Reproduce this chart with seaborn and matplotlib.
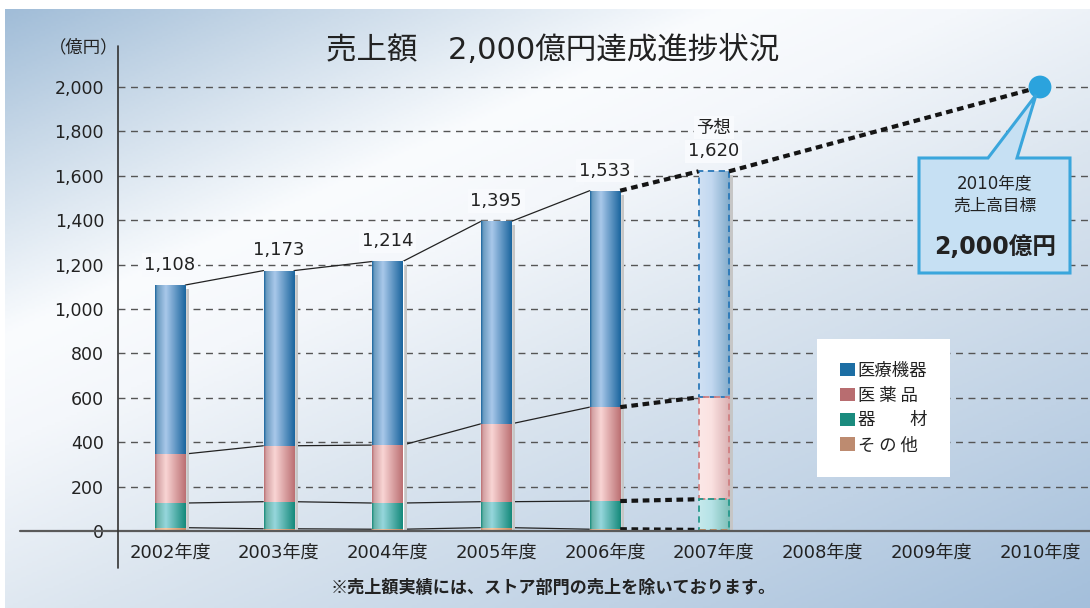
import numpy as np
import pandas as pd
import matplotlib
matplotlib.use("Agg")
import matplotlib.pyplot as plt
import seaborn as sns
from matplotlib.patches import Rectangle, Polygon, Patch
from matplotlib.lines import Line2D
from matplotlib.colors import LinearSegmentedColormap, to_rgb
from matplotlib.ticker import FuncFormatter

# ---------------- data ----------------
years = ["2002年度", "2003年度", "2004年度", "2005年度", "2006年度",
         "2007年度", "2008年度", "2009年度", "2010年度"]
actual_years = years[:6]
other = [15, 10, 8, 15, 8, 5]              # その他
equipment = [111, 122, 118, 117, 127, 138]  # 器材
pharma = [221, 252, 261, 351, 423, 459]     # 医薬品
devices = [761, 789, 827, 912, 975, 1018]   # 医療機器
totals = [1108, 1173, 1214, 1395, 1533, 1620]
forecast_year = "2007年度"
target_year = "2010年度"
target_value = 2000
series_names = ["医療機器", "医 薬 品", "器　　材", "そ の 他"]
y_ticks = [0, 200, 400, 600, 800, 1000, 1200, 1400, 1600, 1800, 2000]

title = "売上額　2,000億円達成進捗状況"
unit_label = "（億円）"
footnote = "※売上額実績には、ストア部門の売上を除いております。"
callout_lines = ["2010年度", "売上高目標"]
callout_value = "2,000億円"
forecast_label = "予想"

# ---------------- style ----------------
sns.set_style("white")
plt.rcParams["font.family"] = ["DejaVu Sans", "Noto Sans CJK JP"]
CJK = ["Noto Sans CJK JP", "DejaVu Sans"]

W, H = 1090, 608
def fx(px): return px / W
def fy(py): return 1 - py / H

fig = plt.figure(figsize=(W / 100, H / 100), dpi=100)
fig.patch.set_facecolor("white")

# background gradient
bg = fig.add_axes([fx(5), 0, 1 - fx(5), fy(9)])
bg.set_zorder(-5)
gx, gy = np.meshgrid(np.linspace(0, 1, 400), np.linspace(0, 1, 240))
u = 0.45 * gx + 0.55 * gy
stops = [(0.0, "#a1bdd8"), (0.12, "#c6d7e7"), (0.3, "#fafcfe"), (0.4, "#f4f7fb"),
         (0.58, "#dbe5ef"), (0.8, "#c0d2e5"), (1.0, "#a4bfdb")]
bg_cmap = LinearSegmentedColormap.from_list("bg", stops)
bg.imshow(u, cmap=bg_cmap, aspect="auto", extent=[0, 1, 1, 0], vmin=0, vmax=1)
bg.axis("off")

ax = fig.add_axes([fx(118), fy(531), 1 - fx(118), (531 - 47) / H])
ax.patch.set_alpha(0)

px_per_cat = 108.75
ymax = target_value * (531 - 47) / (531 - 87)
px_per_unit = (531 - 87) / target_value

bar_w = 0.28
cum_other = np.array(other, dtype=float)
cum_equip = cum_other + np.array(equipment)
cum_pharma = cum_equip + np.array(pharma)
cum_total = cum_pharma + np.array(devices)
zeros = np.zeros(len(actual_years))

layers = [
    # legend name, top, bottom, dark, light, legend color, forecast edge
    (series_names[0], cum_total, cum_pharma, "#1a659e", "#a9c8ea", "#1c6ea4", "#2a78b8"),
    (series_names[1], cum_pharma, cum_equip, "#bb6f72", "#f9d5d4", "#b86d70", "#d07f82"),
    (series_names[2], cum_equip, cum_other, "#14897a", "#96d7dc", "#1a8b7e", "#26998c"),
    (series_names[3], cum_other, zeros, "#c98a62", "#f6c9a2", "#bd8b70", "#c98a62"),
]

def mix(c, t):
    r = np.array(to_rgb(c))
    return tuple(r + (1 - r) * t)

forecast_idx = years.index(forecast_year)
grad = np.linspace(0, 1, 128).reshape(1, -1)
handles = []
for k, (name, top, bottom, dark, light, lcol, ecol) in enumerate(layers):
    df = pd.DataFrame({"year": actual_years, "value": top})
    n0 = len(ax.patches)
    sns.barplot(data=df, x="year", y="value", order=years, color=dark,
                width=bar_w, saturation=1, errorbar=None, ax=ax)
    cmap = LinearSegmentedColormap.from_list(
        f"c{k}", [(0, dark), (0.07, mix(dark, 0.35)), (0.35, light), (1.0, dark)])
    fcmap = LinearSegmentedColormap.from_list(
        f"f{k}", [(0, mix(light, 0.45)), (0.4, mix(light, 0.3)), (1.0, mix(dark, 0.45))])
    for p in ax.patches[n0:]:
        h = p.get_height()
        if not np.isfinite(h):
            continue
        x0, w = p.get_x(), p.get_width()
        i = int(round(x0 + w / 2))
        b, t = bottom[i], top[i]
        p.set_y(b)
        p.set_height(t - b)
        p.set_zorder(2)
        im = ax.imshow(grad, cmap=fcmap if i == forecast_idx else cmap,
                       extent=[x0, x0 + w, b, t], aspect="auto",
                       interpolation="bilinear", origin="lower", zorder=2.2)
        im.set_clip_path(p)
        if i == forecast_idx:
            p.set_facecolor("none")
            p.set_edgecolor(ecol)
            p.set_linestyle((0, (3.5, 2.5)))
            p.set_linewidth(1.3)
            p.set_zorder(2.4)
        if k == 0:
            # drop shadow on the right of each bar
            sw = 4 / px_per_cat
            drop = 4 / px_per_unit
            ax.add_patch(Rectangle((x0 + w, 0), sw, t - drop,
                                   facecolor="#c6c6c6", edgecolor="none", zorder=1.9))
    handles.append(Patch(facecolor=lcol, edgecolor="none", label=name))

# connecting lines between bars
half = bar_w / 2
for i in range(len(actual_years) - 1):
    for arr in (cum_total, cum_pharma, cum_equip, cum_other):
        xs = [i + half, i + 1 - half]
        ys = [arr[i], arr[i + 1]]
        if i + 1 < forecast_idx:
            ax.plot(xs, ys, color="#222222", lw=0.9, zorder=1.8)
        else:
            ax.plot(xs, ys, color="#151515", lw=3.0,
                    linestyle=(0, (1.6, 1.1)), zorder=2.5)

# line to target
tgt_x = years.index(target_year)
ax.plot([forecast_idx + half, tgt_x], [cum_total[forecast_idx], target_value],
        color="#151515", lw=3.0, linestyle=(0, (1.6, 1.1)), zorder=2.5)
ax.scatter([tgt_x], [target_value], s=270, color="#2ba3dd", zorder=6,
           edgecolors="none")

# value labels (with a small background box that breaks the grid line)
lbl_box = dict(boxstyle="square,pad=0.15", facecolor="#f8fafd", edgecolor="none")
for i, v in enumerate(totals):
    ax.annotate(f"{v:,}", (i, cum_total[i]), xytext=(0, 8),
                textcoords="offset points", ha="center", va="bottom",
                fontsize=13, color="#222222", zorder=7, bbox=lbl_box)
ax.annotate(forecast_label, (forecast_idx, cum_total[forecast_idx]), xytext=(0, 25),
            textcoords="offset points", ha="center", va="bottom",
            fontsize=12.5, color="#222222", zorder=7, family=CJK, bbox=lbl_box)

# axes formatting
ax.set_xlim(-(170 - 118) / px_per_cat, (W - 170) / px_per_cat)
ax.set_ylim(0, ymax)
ax.set_yticks(y_ticks)
ax.yaxis.set_major_formatter(FuncFormatter(lambda v, p: f"{int(v):,}"))
ax.set_xticks(range(len(years)))
ax.set_xticklabels(years)
ax.tick_params(axis="y", length=0, pad=10, labelsize=12.5, labelcolor="#222222")
ax.tick_params(axis="x", length=0, pad=9, labelsize=13, labelcolor="#222222")
ax.set_xlabel("")
ax.set_ylabel("")
for s in ax.spines.values():
    s.set_visible(False)
ax.set_axisbelow(True)
ax.yaxis.grid(True, color="#555555", lw=1.0, linestyle=(0, (5, 4)))
ax.xaxis.grid(False)

# axis lines (extend beyond plot area like the original)
fig.add_artist(Line2D([fx(20), 1], [fy(531), fy(531)], color="#5a5a5a", lw=1.6,
                      transform=fig.transFigure, zorder=3))
fig.add_artist(Line2D([fx(118), fx(118)], [fy(568), fy(46)], color="#333333", lw=1.2,
                      transform=fig.transFigure, zorder=3))

# texts
fig.text(fx(553), fy(50), title, ha="center", va="center", fontsize=22, color="#222222")
fig.text(fx(84), fy(47), unit_label, ha="center", va="center", fontsize=12.5,
         color="#222222", family=CJK)
fig.text(fx(553), fy(588), footnote, ha="center", va="center", fontsize=12.3,
         color="#222222", weight="bold", family=CJK)

# legend
leg = fig.legend(handles=handles, loc="upper left", bbox_to_anchor=(fx(817), fy(339)),
                 bbox_transform=fig.transFigure, frameon=True, fancybox=False,
                 framealpha=1, facecolor="white", edgecolor="none",
                 prop={"family": CJK, "size": 12.5},
                 handlelength=0.9, handleheight=0.85, handletextpad=0.15,
                 labelspacing=0.4, borderpad=1.3, borderaxespad=0)
for t in leg.get_texts():
    t.set_color("#222222")

# callout box
pts = [(919, 158), (988, 158), (1036, 95), (1017, 158), (1070, 158), (1070, 273), (919, 273)]
fig.add_artist(Polygon([(fx(a), fy(b)) for a, b in pts], closed=True,
                       facecolor="#c6e0f3", edgecolor="#3aa6dc", lw=2.2,
                       transform=fig.transFigure, zorder=5))
fig.text(fx(995), fy(183), callout_lines[0], ha="center", va="center", fontsize=12,
         color="#222222", zorder=6)
fig.text(fx(995), fy(206), callout_lines[1], ha="center", va="center", fontsize=12,
         color="#222222", zorder=6, family=CJK)
fig.text(fx(995), fy(247), callout_value, ha="center", va="center", fontsize=17,
         color="#222222", weight="bold", zorder=6)

fig.savefig("out.png", dpi=100)
